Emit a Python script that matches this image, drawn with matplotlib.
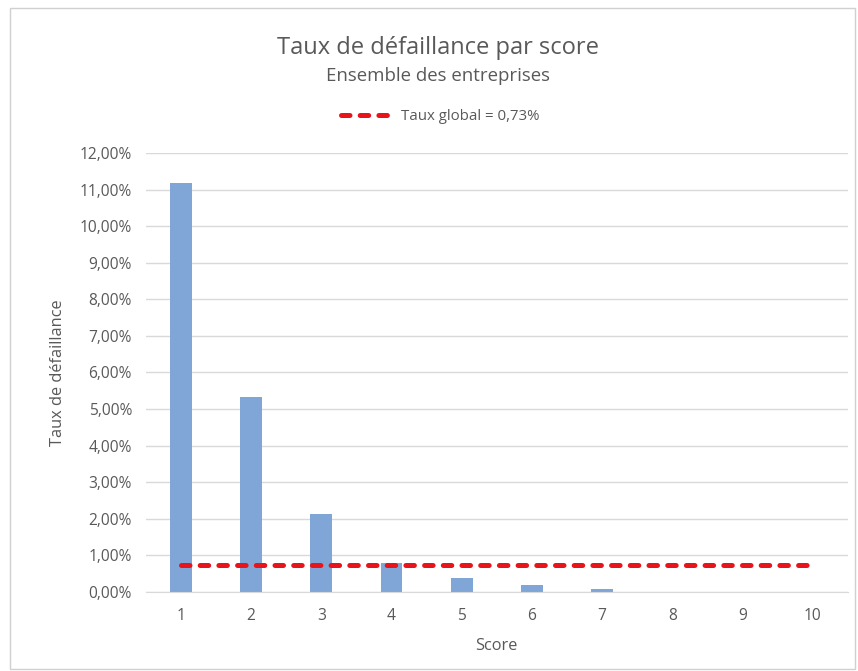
import numpy as np
import matplotlib.pyplot as plt
from matplotlib.patches import Rectangle

# Données
scores = [1, 2, 3, 4, 5, 6, 7, 8, 9, 10]
taux = [11.17, 5.33, 2.13, 0.79, 0.38, 0.19, 0.08, 0.0, 0.0, 0.0]  # en %
taux_global = 0.73
yticks = np.arange(0, 13, 1)

plt.rcParams['font.family'] = ['Open Sans', 'DejaVu Sans']
gris = '#595959'

fig = plt.figure(figsize=(8.58, 6.71), dpi=100)
ax = fig.add_axes([0.170, 0.118, 0.818, 0.654])

# Barres
ax.bar(scores, taux, width=0.31, color='#7FA6D6', zorder=2)

# Ligne du taux global
ax.plot([scores[0], scores[-1]], [taux_global] * 2, color='#E8141B', lw=3.6,
        ls=(0, (1.7, 2.04)), dash_capstyle='round', zorder=3,
        label='Taux global = 0,73%')

ax.set_xlim(0.5, 10.5)
ax.set_ylim(0, 12)
ax.set_xticks(scores)
ax.set_yticks(yticks)
ax.set_yticklabels([f'{v:.2f}%'.replace('.', ',') for v in yticks])
ax.grid(axis='y', color='#D9D9D9', lw=1.0, zorder=0)
for s in ['top', 'right', 'left']:
    ax.spines[s].set_visible(False)
ax.spines['bottom'].set_color('#D9D9D9')
ax.tick_params(length=0, labelsize=11.2, colors=gris, pad=10)
ax.tick_params(axis='x', pad=12)

ax.set_xlabel('Score', fontsize=11.8, color=gris, labelpad=10)
ax.set_ylabel('Taux de défaillance', fontsize=11.8, color=gris, labelpad=10)

cx = 0.511
fig.text(cx, 0.929, 'Taux de défaillance par score', ha='center', va='center',
         fontsize=17, color=gris)
fig.text(cx, 0.887, 'Ensemble des entreprises', ha='center', va='center',
         fontsize=13.4, color=gris)
ax.legend(loc='center', bbox_to_anchor=(0.513, 0.826), bbox_transform=fig.transFigure,
          frameon=False, fontsize=10.8, labelcolor=gris, handlelength=3.6,
          handletextpad=0.4)

# Cadre du graphique
fig.patches.append(Rectangle((0.012, 0.003), 0.985, 0.985, transform=fig.transFigure,
                             fill=False, ec='#D0D0D0', lw=1.0))

fig.savefig('out.png', dpi=100)
